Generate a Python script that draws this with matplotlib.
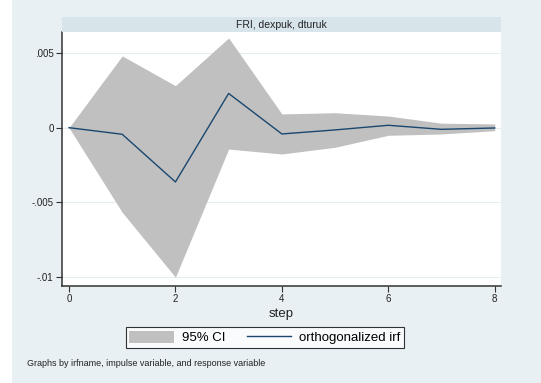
import matplotlib
matplotlib.use("Agg")
import matplotlib.pyplot as plt
from matplotlib.patches import Rectangle, Patch
from matplotlib.lines import Line2D

plt.rcParams['font.family'] = ['Liberation Sans', 'DejaVu Sans']

step = [0, 1, 2, 3, 4, 5, 6, 7, 8]
oirf = [0.0, -0.00044, -0.00363, 0.00229, -0.00042, -0.00015, 0.00016, -0.00011, -0.00002]
ci_upper = [0.0, 0.0048, 0.00281, 0.0060, 0.00092, 0.0010, 0.00078, 0.00030, 0.00025]
ci_lower = [0.0, -0.00566, -0.0100, -0.00143, -0.00176, -0.00131, -0.00051, -0.00042, -0.00020]

yticks = [-0.01, -0.005, 0, 0.005]
yticklabels = ['-.01', '-.005', '0', '.005']
xticks = [0, 2, 4, 6, 8]
panel_title = 'FRI, dexpuk, dturuk'

W, H = 541, 383
bg = '#e8f0f3'
strip_col = '#d7e4ea'
navy = '#1a476f'

fig = plt.figure(figsize=(W / 100, H / 100), dpi=100)
fig.patch.set_facecolor('white')
fig.patches.append(Rectangle((12 / W, 0), 1 - 12 / W, 1, transform=fig.transFigure,
                             facecolor=bg, edgecolor='none', zorder=-10))

ax_l, ax_r, ax_t, ax_b = 62, 501, 32.3, 285.7
ax = fig.add_axes([ax_l / W, 1 - ax_b / H, (ax_r - ax_l) / W, (ax_b - ax_t) / H])
ax.set_facecolor('white')

# title strip above the panel
fig.patches.append(Rectangle((ax_l / W, 1 - ax_t / H), (ax_r - ax_l) / W, 15 / H,
                             transform=fig.transFigure, facecolor=strip_col,
                             edgecolor='none', zorder=1))
fig.text((ax_l + ax_r) / 2 / W, 1 - 25 / H, panel_title, ha='center', va='center',
         fontsize=7.5, color='#222222')

ax.fill_between(step, ci_lower, ci_upper, color='#c0c0c0', linewidth=0, zorder=2)
ax.plot(step, oirf, color=navy, linewidth=1.0, zorder=3)

ax.set_xlim(-0.1316, 8.118)
ax.set_ylim(-0.01057, 0.00638)
ax.set_yticks(yticks)
ax.set_yticklabels(yticklabels)
ax.set_xticks(xticks)
ax.grid(axis='y', color='#e6eef1', linewidth=0.8, zorder=0)
ax.set_axisbelow(True)

for s in ['top', 'right']:
    ax.spines[s].set_visible(False)
for s in ['left', 'bottom']:
    ax.spines[s].set_color('#333333')
    ax.spines[s].set_linewidth(1.1)
ax.tick_params(axis='both', direction='out', length=4, width=0.8, color='#333333',
               labelsize=7, labelcolor='#222222', pad=2)
ax.set_xlabel('step', fontsize=9.5, labelpad=3, color='#222222')

handles = [Patch(facecolor='#c0c0c0', edgecolor='none'),
           Line2D([0], [0], color=navy, linewidth=1.0)]
leg = fig.legend(handles, ['95% CI', 'orthogonalized irf'], ncol=2,
                 loc='center', bbox_to_anchor=(265 / W, 1 - 337.5 / H),
                 fontsize=9.5, frameon=True, fancybox=False, edgecolor='black',
                 handlelength=3.4, handleheight=1.0, columnspacing=1.6,
                 handletextpad=0.6, borderpad=0.25)
leg.get_frame().set_linewidth(0.8)

fig.text(27 / W, 1 - 363 / H, 'Graphs by irfname, impulse variable, and response variable',
         fontsize=6.5, color='#222222', va='center', ha='left')

fig.savefig('out.png', dpi=100, facecolor=fig.get_facecolor())
